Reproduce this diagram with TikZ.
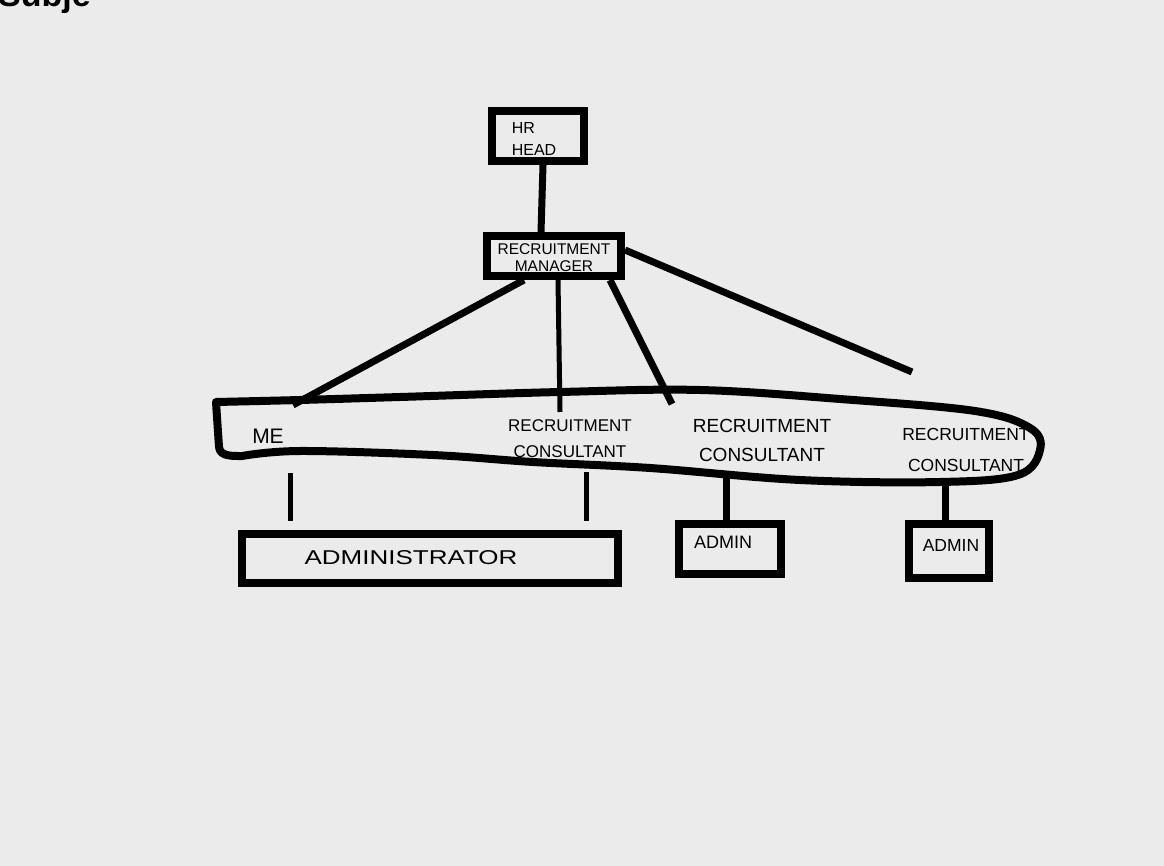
\documentclass[tikz,border=0pt]{standalone}
\usepackage{fontspec}
\usepackage{graphicx}
\setmainfont{Liberation Sans}
\definecolor{bgc}{gray}{0.92}
\tikzset{
  box/.style={draw=black, line width=8pt, inner sep=0pt},
  lbl/.style={text=black, inner sep=0pt, align=center},
  wire/.style={draw=black, line width=7pt},
  thinwire/.style={draw=black, line width=5pt},
  blob/.style={draw=black, line width=8pt, line join=round}
}
\begin{document}
\begin{tikzpicture}[x=1pt,y=-1pt]
\useasboundingbox (0,0) rectangle (1164,866);
\clip (0,0) rectangle (1164,866);
\fill[bgc] (0,0) rectangle (1164,866);

% partial heading at the top edge
\node[lbl, anchor=base west, font=\fontsize{34}{40}\selectfont\bfseries] (subj) at (-2,7) {Subje};

% boxes
\node[box, minimum width=92pt, minimum height=50pt] (hr) at (538,136) {};
\node[lbl, align=left, font=\fontsize{16}{22}\selectfont] (hrt) at (534,139) {HR\\HEAD};

\node[box, minimum width=134pt, minimum height=40pt] (rm) at (554,256) {};
\node[lbl, font=\fontsize{15.5}{17}\selectfont] (rmt) at (554,258) {RECRUITMENT\\MANAGER};

% the long rounded group
\draw[blob] (216,402) -- (219,447) to[out=-85,in=180] (242,456)
  -- plot[smooth, tension=0.6] coordinates {
  (242,456) (300,451) (433,455) (533,462) (650,468) (800,480) (940,482)
  (1018,475) (1040,450) (1030,428) (975,411) (840,399) (700,390)
  (560,392) (400,397) (300,400) (216,402)} -- cycle;

\node[lbl, font=\fontsize{21}{24}\selectfont] (me) at (268,436) {ME};
\node[lbl, font=\fontsize{17}{26}\selectfont] (rc1) at (570,439) {RECRUITMENT\\CONSULTANT};
\node[lbl, font=\fontsize{19}{29}\selectfont] (rc2) at (762,440) {RECRUITMENT\\CONSULTANT};
\node[lbl, font=\fontsize{17.5}{31}\selectfont] (rc3) at (966,450) {RECRUITMENT\\CONSULTANT};

\node[box, minimum width=376pt, minimum height=49pt] (adm) at (430,558) {};
\node[lbl, font=\fontsize{20}{24}\selectfont] (admt) at (411,558) {\scalebox{1.3}[1]{ADMINISTRATOR}};

\node[box, minimum width=102pt, minimum height=50pt] (ad1) at (730,549) {};
\node[lbl, font=\fontsize{18}{22}\selectfont] (ad1t) at (723,542) {ADMIN};

\node[box, minimum width=80pt, minimum height=54pt] (ad2) at (949,551) {};
\node[lbl, font=\fontsize{17.5}{22}\selectfont] (ad2t) at (951,545) {ADMIN};

% connector end points on the group outline
\coordinate (meTop) at (293,405);
\coordinate (rc1Top) at (560,412);
\coordinate (rc2Top) at (672,404);
\coordinate (freeEnd) at (912,372);
\coordinate (meBot) at (290,473);
\coordinate (rc1Bot) at (586,472);
\coordinate (rc2Bot) at (726,478);
\coordinate (rc3Bot) at (945,482);
\coordinate (admL) at (290,521);
\coordinate (admR) at (586,521);

% connectors
\draw[wire] ([xshift=5pt]hr.south) -- ([xshift=-13pt]rm.north);
\draw[wire] ([xshift=-30pt]rm.south) -- (meTop);
\draw[thinwire] ([xshift=4pt]rm.south) -- (rc1Top);
\draw[wire] ([xshift=56pt]rm.south) -- (rc2Top);
\draw[wire] ([yshift=6pt]rm.east) -- (freeEnd);
\draw[thinwire] (meBot) -- (admL);
\draw[thinwire] (rc1Bot) -- (admR);
\draw[wire] (rc2Bot) -- (ad1.north -| rc2Bot);
\draw[wire] (rc3Bot) -- (ad2.north -| rc3Bot);
\end{tikzpicture}
\end{document}
